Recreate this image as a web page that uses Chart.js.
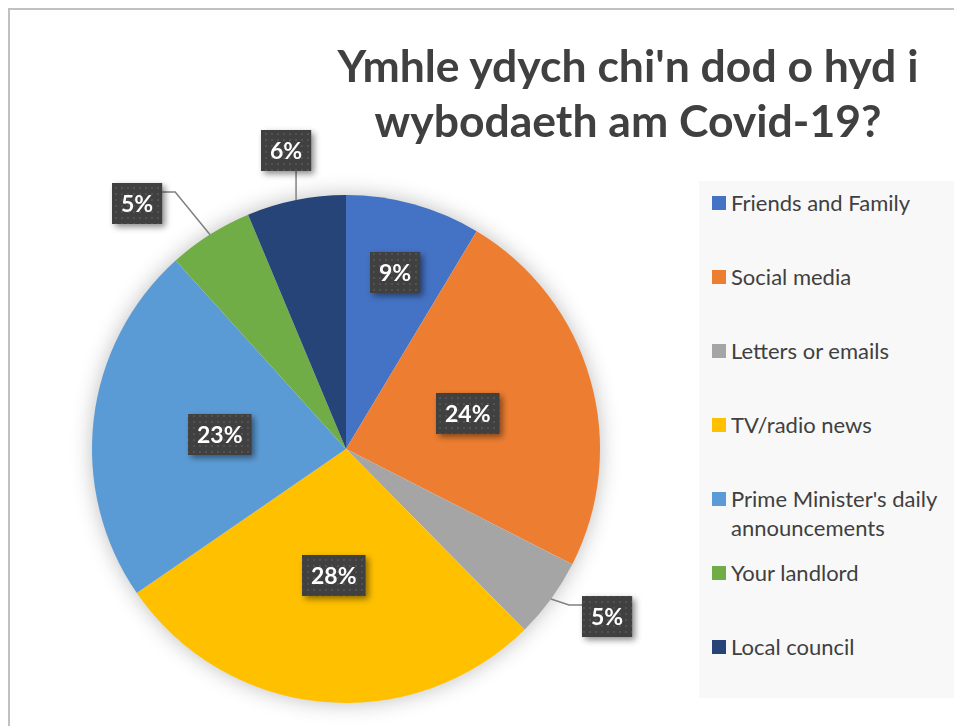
<!DOCTYPE html>
<html><head><meta charset="utf-8">
<script src="https://cdn.jsdelivr.net/npm/chart.js@4"></script>
<style>
html,body{margin:0;padding:0;background:#fff;width:954px;height:726px;overflow:hidden;}
#frame{position:absolute;left:8px;top:8px;width:960px;height:730px;border-left:2px solid #c0c0c0;border-top:2px solid #c0c0c0;box-sizing:border-box;}
#wrap{position:absolute;left:0;top:0;width:954px;height:726px;}
#title{position:absolute;left:298px;width:660px;top:37px;text-align:center;font-family:Lato;font-weight:bold;font-size:44.5px;color:#404040;line-height:55px;}
#legend{position:absolute;left:699px;top:181px;width:255px;height:517px;background:#f8f8f8;}
.item{position:absolute;left:13px;width:240px;display:flex;font-family:Lato;font-size:22px;color:#404040;line-height:29px;}
.sw{width:14px;height:14px;margin-top:8px;margin-right:5px;flex:none;}
.tx{width:218px;white-space:normal;}
</style></head>
<body>
<div id="frame"></div>
<div id="wrap"><canvas id="c" width="954" height="726"></canvas></div>
<div id="title"></div>
<div id="legend"></div>
<script>
const categories = ["Friends and Family", "Social media", "Letters or emails", "TV/radio news", "Prime Minister's daily announcements", "Your landlord", "Local council"];
const shares = [8.6, 23.9, 5.1, 27.8, 22.9, 5.4, 6.3];
const colors = ["#4472C4", "#ED7D31", "#A5A5A5", "#FFC000", "#5B9BD5", "#70AD47", "#264478"];
const titleLines = ["Ymhle ydych chi'n dod o hyd i", "wybodaeth am Covid-19?"];

// title
const t = document.getElementById('title');
titleLines.forEach((l, i) => { if (i) t.appendChild(document.createElement('br')); t.appendChild(document.createTextNode(l)); });

// legend
const lg = document.getElementById('legend');
categories.forEach((c, i) => {
  const it = document.createElement('div');
  it.className = 'item';
  it.style.top = (7 + 74 * i) + 'px';
  const sw = document.createElement('div'); sw.className = 'sw'; sw.style.background = colors[i];
  const tx = document.createElement('div'); tx.className = 'tx'; tx.textContent = c;
  it.appendChild(sw); it.appendChild(tx); lg.appendChild(it);
});

// label placement (style): radial factor and angle offset (deg)
const labelRadial = [0.72, 0.5, 1.22, 0.5, 0.5, 1.27, 1.2];
const labelAngleOff = [0, 0, -3.5, 0, 0, -8, 0];

function makePattern(ctx) {
  const p = document.createElement('canvas'); p.width = 6; p.height = 6;
  const g = p.getContext('2d');
  g.fillStyle = '#404040'; g.fillRect(0, 0, 6, 6);
  g.fillStyle = '#525252'; g.fillRect(1, 1, 2, 2);
  return ctx.createPattern(p, 'repeat');
}

const pieShadow = {
  id: 'pieShadow',
  beforeDatasetsDraw(chart) {
    const arc = chart.getDatasetMeta(0).data[0];
    if (!arc) return;
    const ctx = chart.ctx;
    ctx.save();
    ctx.shadowColor = 'rgba(0,0,0,0.28)';
    ctx.shadowBlur = 22;
    ctx.fillStyle = '#ffffff';
    ctx.beginPath(); ctx.arc(arc.x, arc.y, arc.outerRadius - 1, 0, Math.PI * 2); ctx.fill();
    ctx.restore();
  }
};

const boxLabels = {
  id: 'boxLabels',
  afterDatasetsDraw(chart) {
    const ctx = chart.ctx;
    const meta = chart.getDatasetMeta(0);
    const data = chart.data.datasets[0].data;
    const total = data.reduce((a, b) => a + b, 0);
    const pat = makePattern(ctx);
    ctx.save();
    ctx.font = 'bold 23px Lato';
    meta.data.forEach((arc, i) => {
      const txt = Math.round(data[i] / total * 100) + '%';
      const mid = (arc.startAngle + arc.endAngle) / 2;
      const R = arc.outerRadius;
      const a = mid + labelAngleOff[i] * Math.PI / 180;
      const cx = arc.x + Math.cos(a) * R * labelRadial[i];
      const cy = arc.y + Math.sin(a) * R * labelRadial[i];
      const w = ctx.measureText(txt).width + 18, h = 41;
      const L = Math.round(cx - w / 2), T = Math.round(cy - h / 2);
      if (labelRadial[i] > 1) {
        const ex = arc.x + Math.cos(mid) * R, ey = arc.y + Math.sin(mid) * R;
        ctx.strokeStyle = '#808080'; ctx.lineWidth = 1.5;
        ctx.beginPath();
        if (ex >= L && ex <= L + w) {
          ctx.moveTo(ex, ey);
          ctx.lineTo(ex, ey > T + h ? T + h : T);
        } else {
          const right = ex > L + w;
          const sx = right ? L + w : L;
          const ay = T + 9;
          ctx.moveTo(ex, ey);
          ctx.lineTo(sx + (right ? 13 : -13), ay);
          ctx.lineTo(sx, ay);
        }
        ctx.stroke();
      }
      ctx.save();
      ctx.shadowColor = 'rgba(0,0,0,0.45)';
      ctx.shadowBlur = 6; ctx.shadowOffsetX = 3; ctx.shadowOffsetY = 3;
      ctx.fillStyle = pat;
      ctx.fillRect(L, T, w, h);
      ctx.restore();
      ctx.fillStyle = '#ffffff';
      ctx.textAlign = 'center'; ctx.textBaseline = 'middle';
      ctx.fillText(txt, L + w / 2, T + h / 2 + 1);
    });
    ctx.restore();
  }
};

new Chart(document.getElementById('c'), {
  type: 'pie',
  data: {
    labels: categories,
    datasets: [{ data: shares, backgroundColor: colors, borderWidth: 0 }]
  },
  options: {
    responsive: false,
    animation: false,
    events: [],
    layout: { padding: { left: 92, right: 354, top: 195, bottom: 23 } },
    plugins: { legend: { display: false }, tooltip: { enabled: false }, title: { display: false } }
  },
  plugins: [pieShadow, boxLabels]
});
</script>
</body></html>
